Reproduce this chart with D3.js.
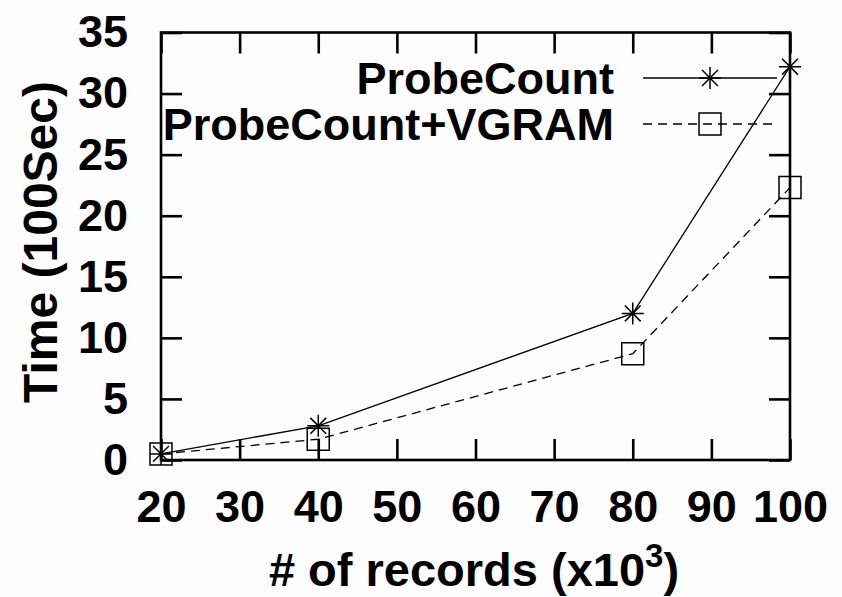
<!DOCTYPE html>
<html>
<head>
<meta charset="utf-8">
<script src="https://cdn.jsdelivr.net/npm/d3@7"></script>
<style>
  body { margin: 0; background: #fdfdfd; }
  text { font-family: "Liberation Sans", Arial, sans-serif; font-weight: bold; fill: #000; }
</style>
</head>
<body>
<div id="chart"></div>
<script>
// data
const records = [20, 40, 80, 100];          // x10^3
const probeCount = [0.5, 2.8, 12.0, 32.2];  // 100 sec
const probeCountVgram = [0.5, 1.7, 8.7, 22.3];
const xTicks = [20, 30, 40, 50, 60, 70, 80, 90, 100];
const yTicks = [0, 5, 10, 15, 20, 25, 30, 35];

const width = 842, height = 597;
const margin = {top: 32.5, right: 52, bottom: 137, left: 161};

const svg = d3.select("#chart").append("svg")
  .attr("width", width)
  .attr("height", height);

const x = d3.scaleLinear().domain([20, 100]).range([margin.left, width - margin.right]);
const y = d3.scaleLinear().domain([0, 35]).range([height - margin.bottom, margin.top]);

const tickLen = 21;

// axes: ticks point inside, mirrored on top and right
const axBottom = svg.append("g")
  .attr("transform", `translate(0,${y(0)})`)
  .call(d3.axisBottom(x).tickValues(xTicks).tickSizeInner(-tickLen).tickSizeOuter(0).tickPadding(30));
const axTop = svg.append("g")
  .attr("transform", `translate(0,${y(35)})`)
  .call(d3.axisTop(x).tickValues(xTicks).tickSizeInner(-tickLen).tickSizeOuter(0).tickFormat(""));
const axLeft = svg.append("g")
  .attr("transform", `translate(${x(20)},0)`)
  .call(d3.axisLeft(y).tickValues(yTicks).tickSizeInner(-tickLen).tickSizeOuter(0).tickPadding(33));
const axRight = svg.append("g")
  .attr("transform", `translate(${x(100)},0)`)
  .call(d3.axisRight(y).tickValues(yTicks).tickSizeInner(-tickLen).tickSizeOuter(0).tickFormat(""));

[axBottom, axTop, axLeft, axRight].forEach(g => {
  g.select(".domain").remove();
  g.selectAll(".tick line").attr("stroke", "#000").attr("stroke-width", 2.6);
  g.selectAll(".tick text").style("font-size", "45px");
});
axBottom.selectAll(".tick text").attr("dy", "0.71em");

// frame
svg.append("rect")
  .attr("x", x(20)).attr("y", y(35))
  .attr("width", x(100) - x(20)).attr("height", y(0) - y(35))
  .attr("fill", "none").attr("stroke", "#000").attr("stroke-width", 2.6);

// axis titles
svg.append("text")
  .attr("transform", "translate(57,242) rotate(-90)")
  .attr("text-anchor", "middle")
  .style("font-size", "48px")
  .text("Time (100Sec)");

const xt = svg.append("text")
  .attr("x", 474).attr("y", 586)
  .attr("text-anchor", "middle")
  .style("font-size", "47px");
xt.append("tspan").text("# of records (x10");
xt.append("tspan").attr("dy", -19).style("font-size", "33px").text("3");
xt.append("tspan").attr("dy", 19).text(")");

// marker shapes
function star(cx, cy, r) {
  const d = r * 0.72;
  return `M${cx - r},${cy}H${cx + r}M${cx},${cy - r}V${cy + r}` +
    `M${cx - d},${cy - d}L${cx + d},${cy + d}M${cx - d},${cy + d}L${cx + d},${cy - d}`;
}
function square(cx, cy, s) {
  return `M${cx - s},${cy - s}h${2 * s}v${2 * s}h${-2 * s}Z`;
}

const line = d3.line().x(d => x(d[0])).y(d => y(d[1]));

const series = [
  {name: "ProbeCount", values: probeCount, dash: null, marker: "star"},
  {name: "ProbeCount+VGRAM", values: probeCountVgram, dash: "9,6", marker: "square"}
];

series.forEach((s, i) => {
  const pts = records.map((r, j) => [r, s.values[j]]);

  svg.append("path")
    .attr("d", line(pts))
    .attr("fill", "none")
    .attr("stroke", "#000")
    .attr("stroke-width", 1.3)
    .attr("stroke-dasharray", s.dash);

  svg.selectAll(null)
    .data(pts)
    .enter()
      .append("path")
      .attr("d", d => s.marker == "star" ? star(x(d[0]), y(d[1]), 11) : square(x(d[0]), y(d[1]), 11))
      .attr("fill", "none")
      .attr("stroke", "#000")
      .attr("stroke-width", 1.5);

  // legend row
  const ly = 78 + i * 46;
  svg.append("text")
    .attr("x", 614).attr("y", ly)
    .attr("dy", "0.36em")
    .attr("text-anchor", "end")
    .style("font-size", "45px")
    .text(s.name);
  svg.append("line")
    .attr("x1", 643).attr("x2", 777)
    .attr("y1", ly).attr("y2", ly)
    .attr("stroke", "#000")
    .attr("stroke-width", 1.3)
    .attr("stroke-dasharray", s.dash);
  svg.append("path")
    .attr("d", s.marker == "star" ? star(710, ly, 11) : square(710, ly, 11))
    .attr("fill", "none")
    .attr("stroke", "#000")
    .attr("stroke-width", 1.5);
});
</script>
</body>
</html>
